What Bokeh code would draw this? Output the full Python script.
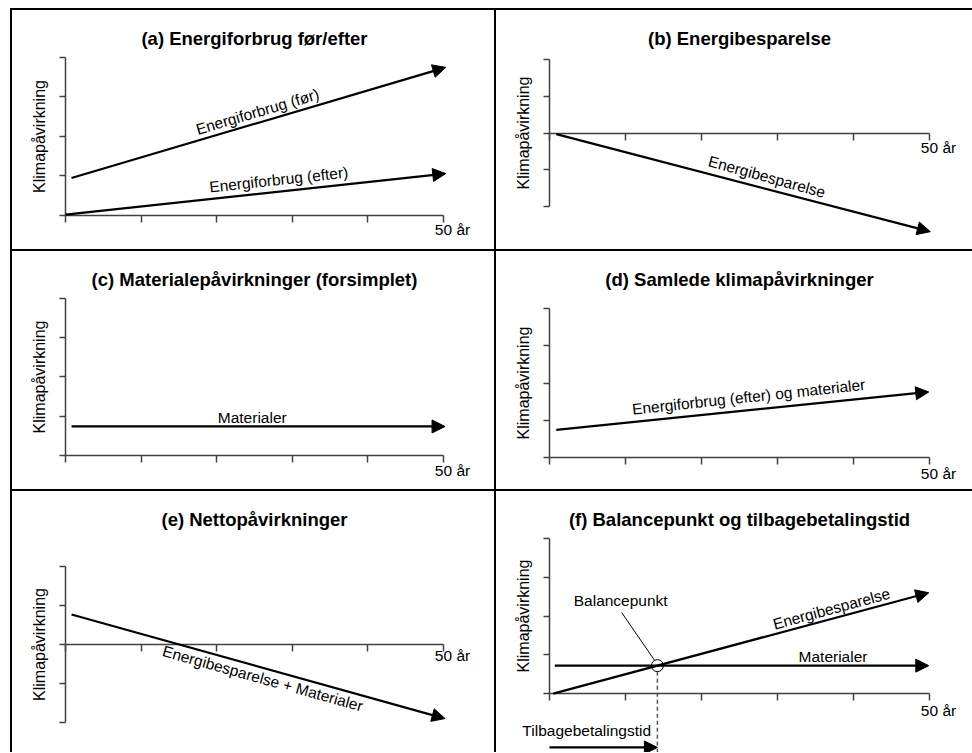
from bokeh.plotting import figure
from bokeh.models import Arrow, NormalHead, ColumnDataSource, FixedTicker, GridBox, Spacer
from bokeh.core.properties import value
from bokeh.embed import file_html
from bokeh.resources import INLINE

# ---------------- data ----------------
X_TICKS = [0, 10, 20, 30, 40, 50]
Y_TICKS_POS = [0, 1, 2, 3, 4]
Y_TICKS_SYM = [-2, -1, 0, 1, 2]
X_END_LABEL = "50 år"
Y_LABEL = "Klimapåvirkning"

TITLES = [
    "(a) Energiforbrug før/efter",
    "(b) Energibesparelse",
    "(c) Materialepåvirkninger (forsimplet)",
    "(d) Samlede klimapåvirkninger",
    "(e) Nettopåvirkninger",
    "(f) Balancepunkt og tilbagebetalingstid",
]

# (a) energy use before / after
a_foer_x = [0.8, 50.3]
a_foer_y = [0.95, 3.75]
a_efter_x = [0.0, 50.3]
a_efter_y = [0.02, 1.06]
# (b) energy saving
b_bes_x = [0.9, 50.1]
b_bes_y = [-0.03, -2.67]
# (c) materials
c_mat_x = [0.8, 50.2]
c_mat_y = [0.74, 0.74]
# (d) total
d_tot_x = [0.9, 49.9]
d_tot_y = [0.74, 1.76]
# (e) net
e_net_x = [0.8, 50.2]
e_net_y = [0.77, -1.90]
# (f) balance point
f_bes_x = [0.5, 49.9]
f_bes_y = [0.0, 2.60]
f_mat_x = [0.7, 49.9]
f_mat_y = [0.72, 0.72]
f_balance_x = [14.2]
f_balance_y = [0.72]
f_payback_x = [0.0, 14.2]
f_payback_y = [-1.39, -1.39]

# ---------------- styling / layout ----------------
FONT = "Liberation Sans"
TXT = "15.5px"
AXIS_COLOR = "#404040"
LEFT_W, RIGHT_W = 482, 476
ROW_H = [239, 238, 261]


def make_panel(title, width, height, x_range, y_range, yticks, mb_left, mb_right, mb_top, title_standoff=12):
    p = figure(width=width, height=height, x_range=x_range, y_range=y_range,
               output_backend="svg", toolbar_location=None,
               min_border_left=mb_left, min_border_right=mb_right,
               min_border_top=mb_top, min_border_bottom=0,
               background_fill_color="white", border_fill_color="white")
    p.styles = {"background-color": "white"}
    p.outline_line_color = None
    p.title.text = title
    p.title.align = "center"
    p.title.text_font = FONT
    p.title.text_font_size = "18.5px"
    p.title.text_font_style = "bold"
    p.title.text_color = "black"
    p.title.standoff = title_standoff
    p.grid.visible = False

    xa = p.xaxis[0]
    xa.fixed_location = 0
    xa.bounds = (0, 50)
    xa.ticker = FixedTicker(ticks=X_TICKS)
    xa.major_label_overrides = {t: "" for t in X_TICKS}
    xa.minor_tick_line_color = None
    xa.major_tick_in = 0
    xa.major_tick_out = 7
    xa.axis_line_color = AXIS_COLOR
    xa.major_tick_line_color = AXIS_COLOR
    xa.axis_line_width = 1.5
    xa.major_tick_line_width = 1.5

    ya = p.yaxis[0]
    ya.fixed_location = 0
    ya.bounds = (min(yticks), max(yticks))
    ya.ticker = FixedTicker(ticks=yticks)
    ya.major_label_overrides = {t: "" for t in yticks}
    ya.major_label_standoff = 0
    ya.minor_tick_line_color = None
    ya.major_tick_in = 0
    ya.major_tick_out = 6
    ya.axis_line_color = AXIS_COLOR
    ya.major_tick_line_color = AXIS_COLOR
    ya.axis_line_width = 1.5
    ya.major_tick_line_width = 1.5
    ya.axis_label = Y_LABEL
    ya.axis_label_text_font = FONT
    ya.axis_label_text_font_size = "16px"
    ya.axis_label_text_font_style = "normal"
    ya.axis_label_text_color = "black"
    ya.axis_label_standoff = 12
    return p


def add_arrow(p, xs, ys):
    src = ColumnDataSource(dict(x0=[xs[0]], y0=[ys[0]], x1=[xs[1]], y1=[ys[1]]))
    p.add_layout(Arrow(end=NormalHead(size=13, fill_color="black", line_color="black", line_width=1),
                       x_start="x0", y_start="y0", x_end="x1", y_end="y1", source=src,
                       line_color="black", line_width=2.2))


def add_texts(p, xs, ys, texts, angles):
    src = ColumnDataSource(dict(x=xs, y=ys, text=texts, angle=angles))
    p.text(x="x", y="y", text="text", angle="angle", angle_units="deg", source=src,
           text_align="center", text_baseline="middle", text_color="black",
           text_font=value(FONT), text_font_size=value(TXT))


def add_end_label(p, y_off):
    p.text(x=[50], y=[0], text=[X_END_LABEL], x_offset=9, y_offset=y_off,
           text_align="center", text_baseline="middle", text_color="black",
           text_font=value(FONT), text_font_size=value(TXT))


LX = (-5.42, 55.42)   # left column: frame 460 px wide
RX = (-4.6, 54.6)     # right column: frame ~450 px wide

# (a)
pa = make_panel(TITLES[0], LEFT_W, ROW_H[0], LX, (-0.861, 4.076), Y_TICKS_POS, 12, 10, 44)
add_arrow(pa, a_foer_x, a_foer_y)
add_arrow(pa, a_efter_x, a_efter_y)
add_texts(pa, [25.4, 28.2], [2.63, 0.91], ["Energiforbrug (før)", "Energiforbrug (efter)"], [16.4, 6.2])
add_end_label(pa, 14)

# (b)
pb = make_panel(TITLES[1], RIGHT_W, ROW_H[0], RX, (-3.154, 2.128), Y_TICKS_SYM, 18, 8, 33)
add_arrow(pb, b_bes_x, b_bes_y)
add_texts(pb, [28.6], [-1.18], ["Energibesparelse"], [-15.4])
add_end_label(pb, 14)

# (c)
pc = make_panel(TITLES[2], LEFT_W, ROW_H[1], LX, (-0.866, 4.076), Y_TICKS_POS, 12, 10, 44)
add_arrow(pc, c_mat_x, c_mat_y)
add_texts(pc, [24.7], [0.97], ["Materialer"], [0])
add_end_label(pc, 15)

# (d)
pd_ = make_panel(TITLES[3], RIGHT_W, ROW_H[1], RX, (-0.866, 4.357), Y_TICKS_POS, 18, 8, 33)
add_arrow(pd_, d_tot_x, d_tot_y)
add_texts(pd_, [26.2], [1.63], ["Energiforbrug (efter) og materialer"], [6.1])
add_end_label(pd_, 16)

# (e)
pe = make_panel(TITLES[4], LEFT_W, ROW_H[2], LX, (-2.77, 2.795), Y_TICKS_SYM, 12, 10, 44)
add_arrow(pe, e_net_x, e_net_y)
add_texts(pe, [26.1], [-0.87], ["Energibesparelse + Materialer"], [-15.6])
add_end_label(pe, 11)

# (f)
F_BOTTOM = -1.52
pf = make_panel(TITLES[5], RIGHT_W, ROW_H[2], RX, (F_BOTTOM, 4.077), Y_TICKS_POS, 18, 8, 44)
add_arrow(pf, f_bes_x, f_bes_y)
add_arrow(pf, f_mat_x, f_mat_y)
add_arrow(pf, f_payback_x, f_payback_y)
pf.line(x=[f_balance_x[0], f_balance_x[0]], y=[f_balance_y[0] - 0.16, F_BOTTOM],
        line_color="#555555", line_width=1.5, line_dash="4 3")
pf.line(x=[9.5, 13.85], y=[2.09, 0.85], line_color="black", line_width=1)
pf.scatter(x=f_balance_x, y=f_balance_y, marker="circle", size=12,
           fill_color=None, line_color="black", line_width=1)
add_texts(pf, [9.37, 37.1, 37.3, 4.9], [2.4, 2.19, 0.95, -0.95],
          ["Balancepunkt", "Energibesparelse", "Materialer", "Tilbagebetalingstid"],
          [0, 15.1, 0, 0])
add_end_label(pf, 17)

grid = GridBox(children=[(Spacer(width=0, height=0), 0, 0),
                         (pa, 1, 1), (pb, 1, 2),
                         (pc, 2, 1), (pd_, 2, 2),
                         (pe, 3, 1), (pf, 3, 2)],
               spacing=2,
               styles={"background-color": "black", "margin-left": "10px", "margin-top": "8px"})

open("out.html", "w").write(file_html(grid, INLINE))
